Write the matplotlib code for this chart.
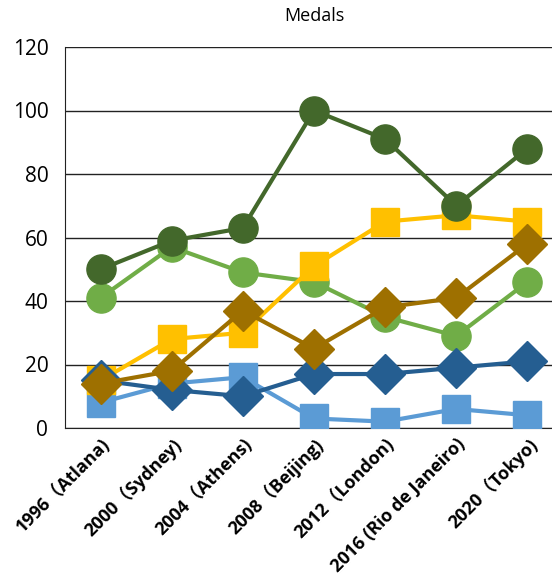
import matplotlib.pyplot as plt

plt.rcParams['font.family'] = ['Open Sans', 'Noto Sans CJK JP', 'DejaVu Sans']

games = ['1996（Atlana)', '2000（Sydney)', '2004（Athens)', '2008（Beijing)',
         '2012（London)', '2016 (Rio de Janeiro)', '2020（Tokyo)']

dark_green = [50, 59, 63, 100, 91, 70, 88]
light_green = [41, 57, 49, 46, 35, 29, 46]
yellow = [15, 28, 30, 51, 65, 67, 65]
brown = [14, 18, 37, 25, 38, 41, 58]
dark_blue = [15, 12, 10, 17, 17, 19, 21]
light_blue = [8, 14, 16, 3, 2, 6, 4]

fig = plt.figure(figsize=(5.52, 5.81), dpi=100)
ax = fig.add_axes([65 / 552, 153 / 581, 498 / 552, 381 / 581])

x = range(len(games))
# drawn bottom to top
ax.plot(x, light_blue, color='#5B9BD5', lw=3, marker='s', ms=20, zorder=3)
ax.plot(x, light_green, color='#70AD47', lw=3, marker='o', ms=21, zorder=4)
ax.plot(x, yellow, color='#FFC000', lw=3, marker='s', ms=20, zorder=5)
ax.plot(x, dark_blue, color='#255E91', lw=3, marker='D', ms=20, zorder=6)
ax.plot(x, brown, color='#9E7000', lw=3, marker='D', ms=20, zorder=7)
ax.plot(x, dark_green, color='#43682B', lw=3, marker='o', ms=21, zorder=8)

ax.set_xlim(-0.5, 6.5)
ax.set_ylim(0, 120)
ax.set_yticks(range(0, 121, 20))
ax.yaxis.grid(True, color='#222222', lw=1)
ax.set_axisbelow(True)
for s in ['top', 'right']:
    ax.spines[s].set_visible(False)
ax.spines['left'].set_color('#222222')
ax.spines['bottom'].set_color('#222222')
ax.tick_params(length=0)
ax.tick_params(axis='y', labelsize=15, pad=12)
ax.set_xticks(list(x))
ax.set_xticklabels(games, rotation=45, ha='right', rotation_mode='anchor',
                   fontsize=13, fontweight='bold')
ax.tick_params(axis='x', pad=5)
ax.set_title('Medals', fontsize=13, pad=19)

fig.savefig('out.png', dpi=100)
